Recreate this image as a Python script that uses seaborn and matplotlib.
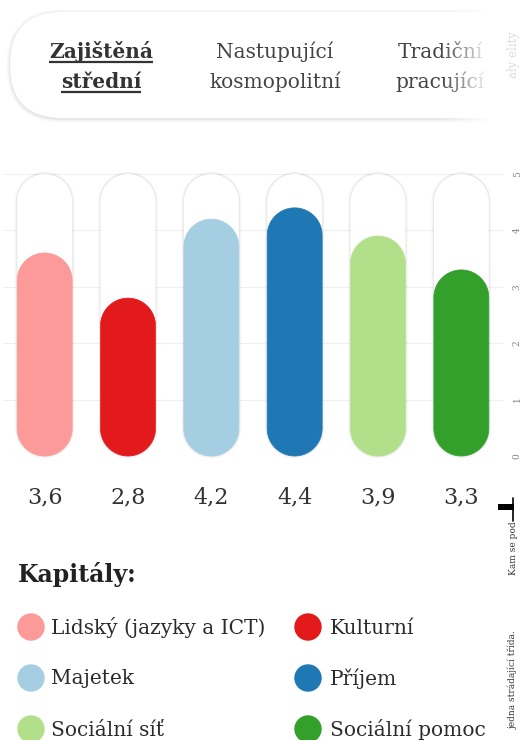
import numpy as np
import pandas as pd
import matplotlib
matplotlib.use("Agg")
import matplotlib.pyplot as plt
from matplotlib.patches import FancyBboxPatch, Rectangle, Polygon
import seaborn as sns

# ---------------- data ----------------
kapitaly = ["Lidský (jazyky a ICT)", "Kulturní", "Majetek", "Příjem",
            "Sociální síť", "Sociální pomoc"]
hodnoty = [3.6, 2.8, 4.2, 4.4, 3.9, 3.3]
barvy = ["#fb9a99", "#e31a1c", "#a6cee3", "#1f78b4", "#b2df8a", "#33a02c"]
skala_max = 5
y_ticks = [0, 1, 2, 3, 4, 5]
tridy = ["Zajištěná\nstřední", "Nastupující\nkosmopolitní", "Tradiční\npracující"]

W, H = 523, 740
sns.set_theme(style="white")
plt.rcParams["font.family"] = ["DejaVu Serif", "DejaVu Sans"]

fig = plt.figure(figsize=(W / 100, H / 100), dpi=100)
fig.patch.set_facecolor("white")

# main bar axes (pixel geometry of reference)
x0_px, x1_px = 3, 503
y0_px, y1_px = 456, 174
ax = fig.add_axes([x0_px / W, (H - y0_px) / H, (x1_px - x0_px) / W, (y0_px - y1_px) / H])
ax.set_facecolor("none")

df = pd.DataFrame({"kapital": kapitaly, "hodnota": hodnoty})
sns.barplot(data=df, x="kapital", y="hodnota", hue="kapital", palette=barvy,
            hue_order=kapitaly, order=kapitaly, width=0.66, saturation=1,
            ax=ax, legend=False)
ax.set_xlim(-0.5, len(kapitaly) - 0.5)
ax.set_ylim(0, skala_max)

# data units per pixel for true semicircular caps
xpp = len(kapitaly) / (x1_px - x0_px)
ypp = skala_max / (y0_px - y1_px)
aspect = ypp / xpp


def pill(x, w, bottom, top, n=48):
    r = w / 2
    ry = r * aspect
    cx = x + r
    t_top = np.linspace(0, np.pi, n)
    t_bot = np.linspace(np.pi, 2 * np.pi, n)
    top_pts = np.column_stack([cx + r * np.cos(t_top), top - ry + ry * np.sin(t_top)])
    bot_pts = np.column_stack([cx + r * np.cos(t_bot), bottom + ry + ry * np.sin(t_bot)])
    return np.vstack([top_pts, bot_pts])


bars = list(ax.patches)
for bar in bars:
    x = bar.get_x()
    w = bar.get_width()
    h = bar.get_height()
    col = bar.get_facecolor()
    bar.set_visible(False)
    # soft shadow around track
    for grow, a in [(2.5, 0.025), (1.5, 0.035), (0.7, 0.045)]:
        gx = grow * xpp
        ax.add_patch(Polygon(pill(x - gx, w + 2 * gx, -grow * ypp, skala_max + grow * ypp),
                             closed=True, facecolor=(0, 0, 0, a), edgecolor="none",
                             zorder=2, clip_on=False))
    ax.add_patch(Polygon(pill(x, w, 0, skala_max), closed=True, facecolor="white",
                         edgecolor="none", zorder=3, clip_on=False))
    ax.add_patch(Polygon(pill(x, w, 0, h), closed=True, facecolor=col,
                         edgecolor=col, linewidth=0.5, zorder=4, clip_on=False))

for s in ax.spines.values():
    s.set_visible(False)
ax.set_yticks(y_ticks)
ax.yaxis.tick_right()
ax.grid(axis="y", color="#f0f0f0", linewidth=0.8, zorder=0)
ax.set_axisbelow(True)
ax.tick_params(axis="y", length=0, pad=7, labelsize=6.5, labelcolor="#808080",
               labelrotation=90)
for lab in ax.get_yticklabels():
    lab.set_va("center")
ax.set_xlabel("")
ax.set_ylabel("")
ax.set_xticks(range(len(hodnoty)))
ax.set_xticklabels([f"{v:.1f}".replace(".", ",") for v in hodnoty],
                   fontsize=16, color="#333333")
ax.tick_params(axis="x", length=0, pad=22)

# ---------------- overlay (pixel coords) ----------------
ov = fig.add_axes([0, 0, 1, 1], zorder=5)
ov.set_xlim(0, W)
ov.set_ylim(H, 0)
ov.axis("off")
ov.patch.set_alpha(0)

# top tab panel
px, py, pw, ph = 10, 12, 600, 106
for grow, a in [(4, 0.012), (3, 0.018), (2, 0.025), (1, 0.035)]:
    ov.add_patch(FancyBboxPatch((px - grow, py - grow + 1), pw + 2 * grow, ph + 2 * grow,
                                boxstyle=f"round,pad=0,rounding_size={ph / 2 + grow}",
                                facecolor=(0, 0, 0, a), edgecolor="none", zorder=1))
ov.add_patch(FancyBboxPatch((px, py), pw, ph,
                            boxstyle=f"round,pad=0,rounding_size={ph / 2}",
                            facecolor="white", edgecolor="none", zorder=2))

centers = [101, 275, 440]
for i, (t, cx) in enumerate(zip(tridy, centers)):
    l1, l2 = t.split("\n")
    wgt = "bold" if i == 0 else "normal"
    col = "#333333" if i == 0 else "#444444"
    t1 = ov.text(cx, 58, l1, ha="center", va="baseline", fontsize=14.5,
                 fontweight=wgt, color=col, zorder=3)
    t2 = ov.text(cx, 88, l2, ha="center", va="baseline", fontsize=14.5,
                 fontweight=wgt, color=col, zorder=3)
    if i == 0:
        fig.canvas.draw()
        rend = fig.canvas.get_renderer()
        for tt, yb in [(t1, 61.5), (t2, 91.5)]:
            bb = tt.get_window_extent(rend)
            ov.plot([bb.x0, bb.x1], [yb, yb], color="#333333", lw=1.6, zorder=3,
                    solid_capstyle="butt")

# fade on the right of the panel
grad = np.zeros((10, 200, 4))
grad[..., :3] = 1.0
grad[..., 3] = np.clip(np.linspace(0, 1.1, 200), 0, 1)[None, :] ** 1.1
ov.imshow(grad, extent=(440, 494, 128, 0), aspect="auto", zorder=4,
          interpolation="bilinear")
ov.add_patch(Rectangle((493, 0), 40, 128, facecolor="white", edgecolor="none", zorder=4))
ov.text(513, 55, "ały elity", rotation=90, ha="center", va="center", fontsize=8.5,
        color="#dddddd", zorder=5)

# right side marks
ov.add_patch(Rectangle((498, 504), 16, 6, facecolor="black", edgecolor="none", zorder=5))
ov.plot([513, 513], [498, 521], color="black", lw=1.2, zorder=5)
ov.text(513, 548, "Kam se pod", rotation=90, ha="center", va="center", fontsize=6.5,
        color="#333333", zorder=5)
ov.text(513, 680, "jedna strádající třída.", rotation=90, ha="center", va="center",
        fontsize=6.5, color="#333333", zorder=5)

# legend
ov.text(18, 582, "Kapitály:", ha="left", va="baseline", fontsize=17,
        fontweight="bold", color="#222222")
rows = [627, 678, 729]
cols = [(31, 51), (308, 330)]
for i, (name, c) in enumerate(zip(kapitaly, barvy)):
    r, k = divmod(i, 2)
    cx, tx = cols[k]
    cy = rows[r]
    ov.scatter([cx], [cy], s=390, color=c, edgecolors="none", zorder=3)
    ov.text(tx, cy + 1, name, ha="left", va="center", fontsize=14.5, color="#2b2b2b")

fig.savefig("out.png", dpi=100, facecolor="white")
